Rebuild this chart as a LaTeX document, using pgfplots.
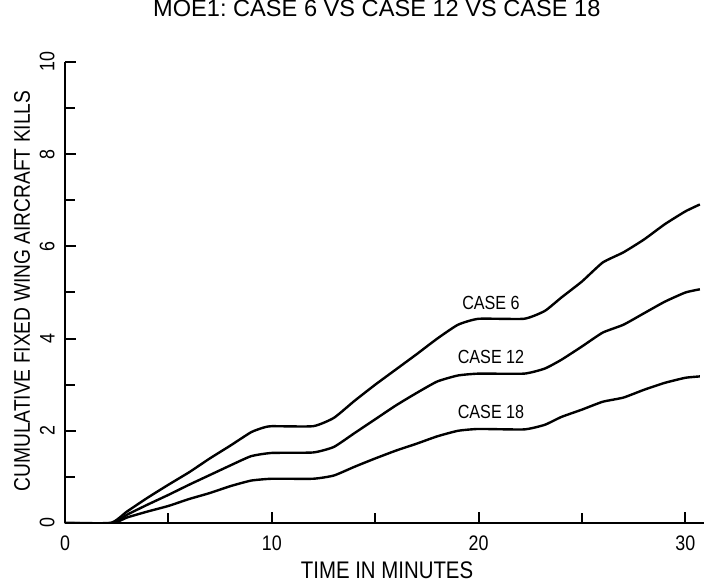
\documentclass[border=0pt]{standalone}
\usepackage{fontspec}
\setmainfont{Liberation Sans}
\newfontfamily\narrowfont{Liberation Sans}[FakeStretch=0.85]
\usepackage{pgfplots}
\pgfplotsset{compat=1.18}
\begin{document}
\begin{tikzpicture}
\useasboundingbox (-32.5pt,-30pt) rectangle (319.5pt,261.5pt);
\begin{axis}[
  at={(0,0)}, anchor=south west,
  scale only axis, width=319.5pt, height=230.5pt,
  xmin=0, xmax=30.9, ymin=0, ymax=10,
  axis lines=left,
  axis line style={-, line width=1.4pt},
  xtick={0,10,20,30}, minor xtick={5,15,25},
  ytick={0,2,4,6,8,10}, minor ytick={1,3,5,7,9},
  tick align=inside,
  major tick length=5.5pt, minor tick length=5pt,
  every tick/.style={line width=1pt, black},
  every minor tick/.style={line width=1pt, black},
  /pgf/number format/assume math mode=true,
  tick label style={font=\narrowfont\fontsize{10.5}{12}\selectfont},
  yticklabel style={rotate=90, anchor=south, inner sep=0pt, yshift=5pt},
  xticklabel style={inner sep=0pt, yshift=-6pt},
  title={MOE1:\ CASE 6 VS CASE 12 VS CASE 18},
  title style={at={(0.488,1.091)}, anchor=center, font=\fontsize{11.8}{13}\selectfont},
  xlabel={TIME IN MINUTES},
  xlabel style={at={(0.504,-0.102)}, anchor=center, font=\narrowfont\fontsize{12}{14}\selectfont},
  ylabel={CUMULATIVE FIXED WING AIRCRAFT KILLS},
  ylabel style={at={(-0.0673,0.503)}, anchor=center, font=\narrowfont\fontsize{11.3}{13}\selectfont},
]
% Case 6
\addplot[black, line width=1.2pt, smooth, tension=0.3] coordinates {(0,0) (2.2,0) (3,0.25) (4,0.55) (5,0.83) (6,1.1) (7,1.4) (8,1.68) (9,1.97) (9.6,2.07) (10,2.1) (12,2.1) (13,2.28) (14,2.65) (15,3.0) (16,3.33) (17,3.66) (18,4.0) (19,4.3) (20,4.43) (22.2,4.43) (23.2,4.6) (24,4.89) (25,5.24) (26,5.65) (27,5.87) (28,6.15) (29,6.48) (30,6.76) (30.7,6.91)};
% Case 12
\addplot[black, line width=1.2pt, smooth, tension=0.3] coordinates {(0,0) (2.3,0) (3,0.18) (4,0.4) (5,0.61) (6,0.83) (7,1.04) (8,1.25) (9,1.45) (10,1.52) (12,1.53) (13,1.65) (14,1.95) (15,2.25) (16,2.55) (17,2.82) (18,3.07) (19,3.2) (20,3.24) (22.2,3.24) (23.2,3.35) (24,3.54) (25,3.83) (26,4.13) (27,4.3) (28,4.55) (29,4.8) (30,5.0) (30.7,5.07)};
% Case 18
\addplot[black, line width=1.2pt, smooth, tension=0.3] coordinates {(0,0) (2.3,0) (3,0.12) (4,0.25) (5,0.37) (6,0.52) (7,0.65) (8,0.8) (9,0.92) (10,0.96) (12,0.96) (13,1.03) (14,1.22) (15,1.4) (16,1.57) (17,1.72) (18,1.88) (19,2.0) (20,2.04) (22.2,2.03) (23.2,2.13) (24,2.3) (25,2.46) (26,2.63) (27,2.72) (28,2.89) (29,3.04) (30,3.15) (30.7,3.18)};
\node[font=\narrowfont\fontsize{9.5}{11}\selectfont] at (axis cs:20.6,4.78) {CASE 6};
\node[font=\narrowfont\fontsize{9.5}{11}\selectfont] at (axis cs:20.6,3.61) {CASE 12};
\node[font=\narrowfont\fontsize{9.5}{11}\selectfont] at (axis cs:20.6,2.41) {CASE 18};
\end{axis}
\end{tikzpicture}
\end{document}
